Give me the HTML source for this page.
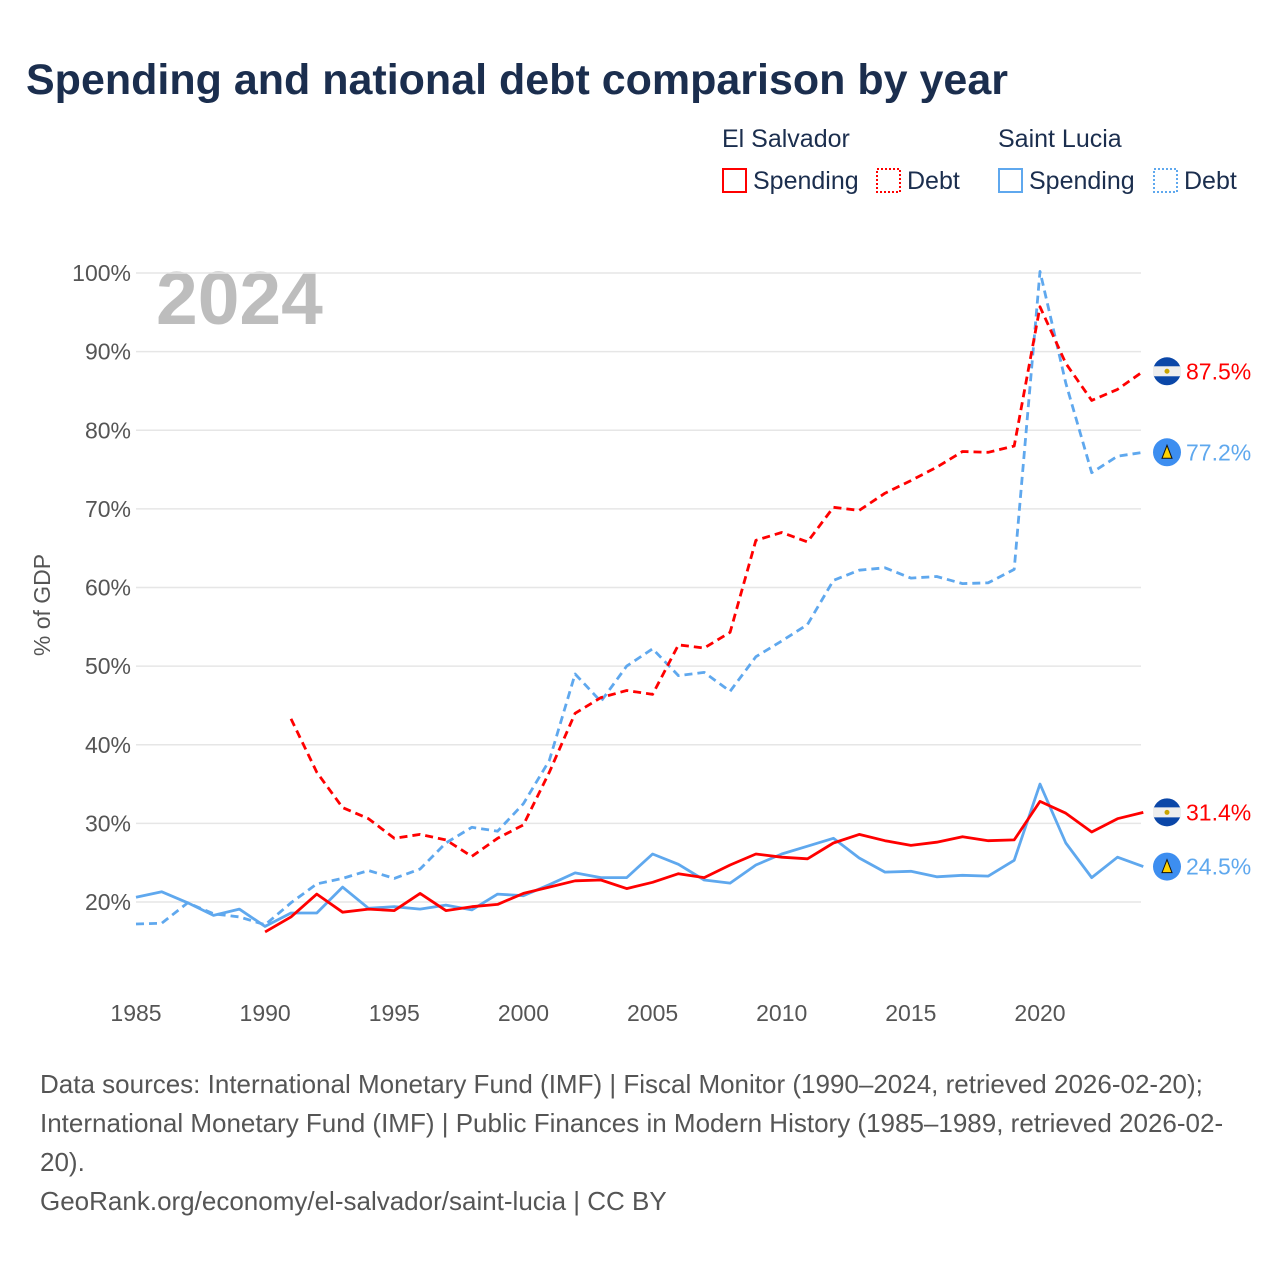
<!DOCTYPE html>
<html><head><meta charset="utf-8"><style>
body{margin:0;background:#fff;font-family:"Liberation Sans",sans-serif}
#wrap{position:relative;width:1280px;height:1280px;overflow:hidden}
</style></head><body>
<div id="wrap">
<svg id="chart" width="1280" height="1280" xmlns="http://www.w3.org/2000/svg">
<text x="26" y="94" font-size="43" font-weight="bold" fill="#1b2e4e">Spending and national debt comparison by year</text>
<g font-size="25" fill="#1b2e4e">
<text x="722" y="147">El Salvador</text>
<text x="998" y="147">Saint Lucia</text>
<g><rect x="723" y="169" width="23" height="23" fill="none" stroke="#f00" stroke-width="2"/><text x="753" y="189">Spending</text></g>
<g><rect x="877" y="169" width="23" height="23" fill="none" stroke="#f00" stroke-width="2" stroke-dasharray="2,2"/><text x="907" y="189">Debt</text></g>
<g><rect x="999" y="169" width="23" height="23" fill="none" stroke="#5fa8ee" stroke-width="2"/><text x="1029" y="189">Spending</text></g>
<g><rect x="1154" y="169" width="23" height="23" fill="none" stroke="#5fa8ee" stroke-width="2" stroke-dasharray="2,2"/><text x="1184" y="189">Debt</text></g>
</g>
<text x="156" y="324" font-size="75" font-weight="bold" fill="#bdbdbd">2024</text>
<g id="grid"></g><g id="series"></g><g id="ends"></g>
<text transform="translate(50,605) rotate(-90)" text-anchor="middle" font-size="23" fill="#555">% of GDP</text>
<g font-size="26" fill="#555">
<text x="40" y="1093">Data sources: International Monetary Fund (IMF) | Fiscal Monitor (1990–2024, retrieved 2026-02-20);</text>
<text x="40" y="1132">International Monetary Fund (IMF) | Public Finances in Modern History (1985–1989, retrieved 2026-02-</text>
<text x="40" y="1171">20).</text>
<text x="40" y="1210">GeoRank.org/economy/el-salvador/saint-lucia | CC BY</text>
</g>
</svg>
</div>
<script>
const yTicks=[20,30,40,50,60,70,80,90,100];
const xTicks=[1985,1990,1995,2000,2005,2010,2015,2020];
const slYears0=1985;
const slSpending=[20.6,21.3,19.9,18.3,19.1,16.9,18.6,18.6,21.9,19.2,19.4,19.1,19.6,19.0,21.0,20.8,22.2,23.7,23.1,23.1,26.1,24.8,22.8,22.4,24.7,26.1,27.1,28.1,25.6,23.8,23.9,23.2,23.4,23.3,25.3,35.0,27.5,23.1,25.7,24.5];
const slDebt=[17.2,17.3,19.9,18.5,18.1,17.1,19.9,22.3,23.0,24.0,23.0,24.2,27.5,29.5,29.0,32.5,38.0,49.0,45.5,50.0,52.2,48.8,49.2,46.8,51.2,53.2,55.3,60.9,62.2,62.5,61.2,61.4,60.5,60.6,62.3,100.2,86.0,74.6,76.7,77.2];
const esSpendStart=1990;
const esSpending=[16.2,18.1,21.0,18.7,19.1,18.9,21.1,18.9,19.4,19.7,21.1,21.9,22.7,22.8,21.7,22.5,23.6,23.1,24.7,26.1,25.7,25.5,27.5,28.6,27.8,27.2,27.6,28.3,27.8,27.9,32.8,31.3,28.9,30.6,31.4];
const esDebtStart=1991;
const esDebt=[43.3,36.5,32.0,30.6,28.1,28.6,27.9,25.8,28.1,29.8,36.5,44.0,46.0,46.9,46.4,52.7,52.3,54.3,66.0,67.0,65.8,70.2,69.8,72.0,73.6,75.3,77.3,77.2,78.0,95.7,88.5,83.8,85.2,87.5];
const NS='http://www.w3.org/2000/svg';
const X=y=>136+(y-1985)*(904/35);
const Y=v=>902-(v-20)*7.8625;
function mk(tag,attrs,parent){const e=document.createElementNS(NS,tag);for(const k in attrs)e.setAttribute(k,attrs[k]);parent.appendChild(e);return e;}
const grid=document.getElementById('grid');
yTicks.forEach(t=>{
 const l=mk('line',{x1:136,x2:1141,y1:Y(t),y2:Y(t),stroke:'#e6e6e6','stroke-width':1.5},grid);
 
 
 const tx=mk('text',{x:131,y:Y(t)+8,'text-anchor':'end','font-size':23,fill:'#555'},grid);
 tx.textContent=t+'%';
 
 
});
xTicks.forEach(t=>{
 const tx=mk('text',{x:X(t),y:1021,'text-anchor':'middle','font-size':23,fill:'#555'},grid);
 tx.textContent=t;
 
 
});
const series=document.getElementById('series');
function line(vals,start,color,dash,name){
 const d=vals.map((v,i)=>(i?'L':'M')+X(start+i).toFixed(1)+','+Y(v).toFixed(1)).join('');
 const p=mk('path',{d:d,fill:'none',stroke:color,'stroke-width':2.8,'stroke-dasharray':dash,'stroke-linejoin':'round'},series);
 
 
}
line(slDebt,slYears0,'#5fa8ee','8,5','line-saint-lucia-debt');
line(esDebt,esDebtStart,'#f00','8,5','line-el-salvador-debt');
line(slSpending,slYears0,'#5fa8ee','none','line-saint-lucia-spending');
line(esSpending,esSpendStart,'#f00','none','line-el-salvador-spending');
const ends=document.getElementById('ends');
function endLabel(v,color,flagColor,name){
 const g=mk('g',{},ends);
 
 
 const cy=Y(v);
 mk('circle',{cx:1167,cy:cy,r:14,fill:flagColor},g);
 if(flagColor==='#0b47a8'){mk('rect',{x:1153,y:cy-5,width:28,height:10,fill:'#eee'},g);mk('circle',{cx:1167,cy:cy,r:2.5,fill:'#c9a400'},g);}
 else{mk('polygon',{points:`${1167},${cy-7} ${1162},${cy+6} ${1172},${cy+6}`,fill:'#ffd200',stroke:'#111','stroke-width':1},g);}
 const t=mk('text',{x:1186,y:cy+8,'font-size':23,fill:color},g);
 t.textContent=v.toFixed(1)+'%';
}
endLabel(esDebt[esDebt.length-1],'#f00','#0b47a8','end-label-el-salvador-debt');
endLabel(slDebt[slDebt.length-1],'#5fa8ee','#3d8ef0','end-label-saint-lucia-debt');
endLabel(esSpending[esSpending.length-1],'#f00','#0b47a8','end-label-el-salvador-spending');
endLabel(slSpending[slSpending.length-1],'#5fa8ee','#3d8ef0','end-label-saint-lucia-spending');
</script>
</body></html>
